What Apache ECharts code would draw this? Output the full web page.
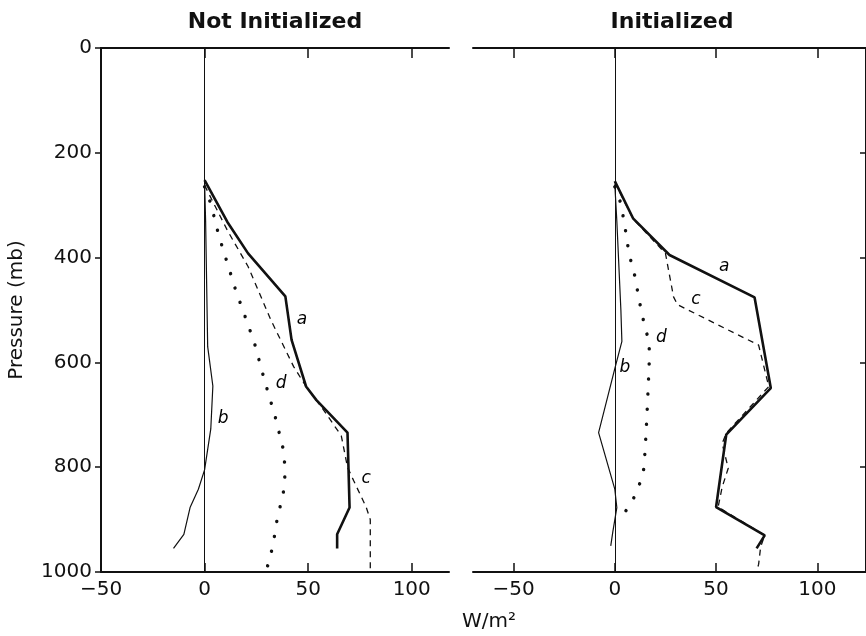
<!DOCTYPE html>
<html>
<head>
<meta charset="utf-8">
<script src="https://cdn.jsdelivr.net/npm/echarts@6/dist/echarts.min.js"></script>
<style>
  html, body { margin: 0; padding: 0; background: #fff; }
  #chart { width: 866px; height: 636px; }
</style>
</head>
<body>
<div id="chart"></div>
<script>
// [W/m2, pressure mb] pairs
const aNot = [[0,252],[11,332],[21,392],[39,474],[42,557],[49,646],[54,672],[69,734],[70,877],[64,928],[64,955]]
const bNot = [[0,255],[0.5,330],[1,450],[1.5,570],[4,645],[3,727],[0,805],[-3,842],[-7,877],[-10,928],[-15,955]]
const cNot = [[0,262],[11,348],[21,417],[32,519],[43,608],[49,646],[58,694],[66,740],[69,800],[72,826],[78,876],[80,900],[80,1000]]
const dNot = [[0,265],[3,297],[7,360],[10,398],[15,462],[19,506],[24,562],[29,635],[34,702],[38,766],[39,807],[38,850],[35,900],[33,950],[30,995]]

const aIni = [[0,254],[9,325],[27,395],[69,476],[77,649],[55,738],[50,876],[74,930],[70,955]]
const bIni = [[0,260],[1,330],[3,500],[3.5,560],[0,612],[-8,734],[0,842],[1,877],[-1,924],[-2,950]]
const cIni = [[0,256],[9,326],[25,392],[29,475],[31,490],[71,567],[76,646],[55,735],[53,755],[56,802],[53,838],[51,876],[74,930],[72,952],[71,985],[70,1000]]
const dIni = [[0,265],[1,274],[3,297],[5,341],[7,392],[10,437],[12,481],[15,536],[17,559],[17,600],[16,690],[15,766],[14,815],[12,834],[10,854],[7,875],[4,891],[2,907]]

// curve letters: [text, x, p]
const labNot = [['a',47,519],['b',9,708],['c',78,821],['d',37,641]]
const labIni = [['a',54,418],['b',5,610],['c',40,481],['d',23,553]]

const xTicks = [-50, 0, 50, 100]
const panelTitles = ['Not Initialized', 'Initialized']

const FONT = 'DejaVu Sans'
const INK = '#111'

const chart = echarts.init(document.getElementById('chart'), null, { renderer: 'canvas' })

function bottomAxis(grid, min, max) {
  return {
    type: 'value', gridIndex: grid, position: 'bottom', min: min, max: max,
    axisLine: { show: true, onZero: false, lineStyle: { color: INK, width: 2 } },
    axisTick: { show: true, inside: true, length: 9, customValues: xTicks, lineStyle: { color: INK, width: 1.5 } },
    axisLabel: {
      show: true, customValues: xTicks, margin: 8, color: INK, fontFamily: FONT, fontSize: 20,
      formatter: v => String(v).replace('-', '\u2212')
    },
    splitLine: { show: false }
  }
}

function topAxis(grid, min, max) {
  return {
    type: 'value', gridIndex: grid, position: 'top', min: min, max: max,
    axisLine: { show: true, onZero: false, lineStyle: { color: INK, width: 2 } },
    axisTick: { show: true, inside: true, length: 10, customValues: xTicks, lineStyle: { color: INK, width: 1.5 } },
    axisLabel: { show: false },
    splitLine: { show: false }
  }
}

function curve(name, data, xi, yi, style) {
  return {
    name: name, type: 'line', xAxisIndex: xi, yAxisIndex: yi, data: data,
    symbol: 'none', silent: true, z: 3,
    lineStyle: Object.assign({ color: INK }, style)
  }
}

function letters(data, xi, yi) {
  return {
    type: 'scatter', xAxisIndex: xi, yAxisIndex: yi, symbolSize: 0, silent: true,
    itemStyle: { color: INK, opacity: 1 },
    data: data.map(d => ({ name: d[0], value: [d[1], d[2]] })),
    label: {
      show: true, position: 'inside', formatter: '{b}',
      color: '#000', fontFamily: FONT, fontStyle: 'italic', fontSize: 17
    }
  }
}

const solidA = { width: 2.6 }
const thinB = { width: 1.2 }
const dashC = { width: 1.3, type: [6, 5] }
const dotD = { width: 3.4, type: [0.1, 15], cap: 'round' }

const zeroLine = {
  silent: true, symbol: 'none', label: { show: false },
  lineStyle: { color: INK, width: 1, type: 'solid' },
  data: [{ xAxis: 0 }]
}

const option = {
  animation: false,
  backgroundColor: '#fff',
  grid: [
    { left: 101, top: 48, width: 348, height: 524 },
    { left: 473, top: 48, width: 396, height: 524 }
  ],
  xAxis: [
    bottomAxis(0, -50, 118),
    topAxis(0, -50, 118),
    bottomAxis(1, -70, 124),
    topAxis(1, -70, 124)
  ],
  yAxis: [
    {
      type: 'value', gridIndex: 0, position: 'left', inverse: true, min: 0, max: 1000, interval: 200,
      name: 'Pressure (mb)', nameLocation: 'middle', nameGap: 74, nameRotate: 90,
      nameTextStyle: { fontFamily: FONT, fontSize: 20, color: INK },
      axisLine: { show: true, onZero: false, lineStyle: { color: INK, width: 2 } },
      axisTick: { show: true, inside: false, length: 6, lineStyle: { color: INK, width: 1.5 } },
      axisLabel: { margin: 9, color: INK, fontFamily: FONT, fontSize: 20, formatter: v => String(v) },
      splitLine: { show: false }
    },
    {
      type: 'value', gridIndex: 1, position: 'right', inverse: true, min: 0, max: 1000, interval: 200,
      axisLine: { show: true, onZero: false, lineStyle: { color: INK, width: 2 } },
      axisTick: { show: true, inside: true, length: 6, lineStyle: { color: INK, width: 1.5 } },
      axisLabel: { show: false },
      splitLine: { show: false }
    }
  ],
  graphic: [
    { type: 'text', x: 275, y: 22, style: { text: panelTitles[0], fontFamily: FONT, fontWeight: 'bold', fontSize: 22, fill: INK, textAlign: 'center', textVerticalAlign: 'middle' } },
    { type: 'text', x: 672, y: 22, style: { text: panelTitles[1], fontFamily: FONT, fontWeight: 'bold', fontSize: 22, fill: INK, textAlign: 'center', textVerticalAlign: 'middle' } },
    { type: 'text', x: 489, y: 622, style: { text: 'W/m\u00b2', fontFamily: FONT, fontSize: 20, fill: INK, textAlign: 'center', textVerticalAlign: 'middle' } }
  ],
  series: [
    Object.assign(curve('b', bNot, 0, 0, thinB), { markLine: zeroLine }),
    curve('c', cNot, 0, 0, dashC),
    curve('d', dNot, 0, 0, dotD),
    curve('a', aNot, 0, 0, solidA),
    letters(labNot, 0, 0),
    Object.assign(curve('b', bIni, 2, 1, thinB), { markLine: zeroLine }),
    curve('c', cIni, 2, 1, dashC),
    curve('d', dIni, 2, 1, dotD),
    curve('a', aIni, 2, 1, solidA),
    letters(labIni, 2, 1)
  ]
}

chart.setOption(option)
window.addEventListener('resize', () => chart.resize())
</script>
</body>
</html>
